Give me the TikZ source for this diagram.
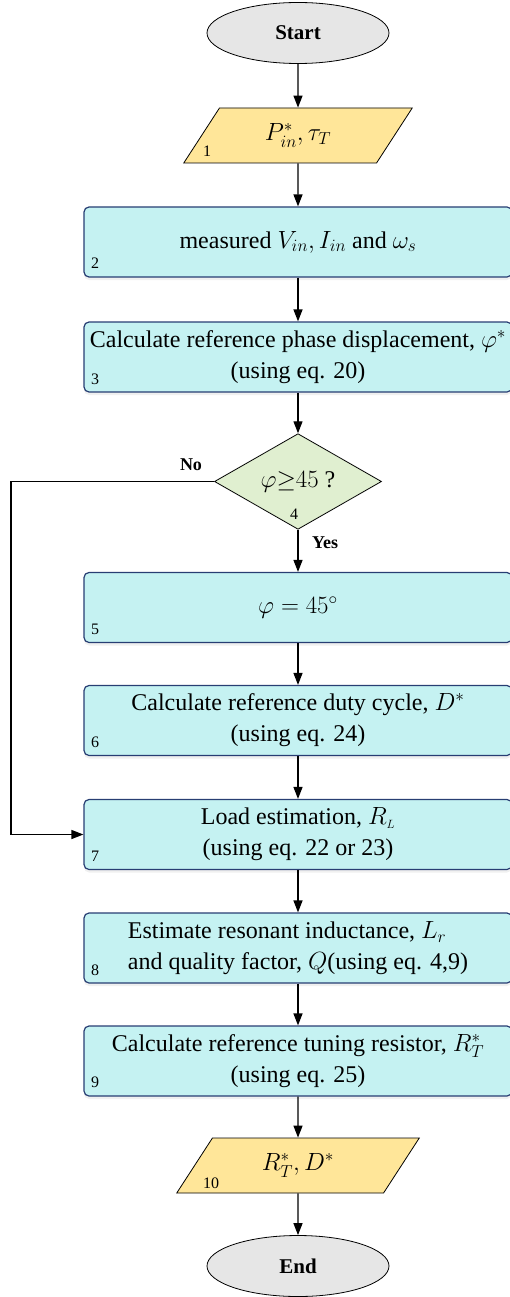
\documentclass[tikz,border=0pt]{standalone}
\usepackage{fontspec}
\setmainfont{Liberation Serif}
\usetikzlibrary{shapes.geometric,arrows.meta,shadows}

\definecolor{boxfill}{RGB}{197,242,242}
\definecolor{boxline}{RGB}{40,62,115}
\definecolor{iofill}{RGB}{255,230,153}
\definecolor{askfill}{RGB}{224,239,208}
\definecolor{termfill}{RGB}{230,230,230}

\tikzset{
    block/.style={draw=boxline, line width=1.2pt, fill=boxfill, rounded corners=5pt,
        minimum width=428pt, minimum height=70pt, inner sep=0pt, align=center,
        drop shadow={opacity=0.12, shadow xshift=0pt, shadow yshift=-3pt},
        font=\fontsize{24}{31}\selectfont},
    io/.style={trapezium, trapezium left angle=57, trapezium right angle=123,
        draw, line width=0.8pt, fill=iofill, minimum width=223pt, minimum height=55pt,
        inner sep=0pt, font=\fontsize{24}{28}\selectfont},
    ask/.style={diamond, draw, line width=0.8pt, fill=askfill, minimum width=167pt,
        minimum height=93pt, inner sep=0pt, font=\fontsize{24}{28}\selectfont},
    term/.style={ellipse, draw, line width=0.8pt, fill=termfill, minimum width=182pt,
        minimum height=61pt, inner sep=0pt, font=\fontsize{21}{24}\selectfont\bfseries},
    num/.style={inner sep=0pt, font=\fontsize{16}{18}\selectfont},
    tag/.style={inner sep=0pt, font=\fontsize{18}{20}\selectfont\bfseries},
    flow/.style={-{Triangle[length=12pt,width=9pt]}, line width=1.3pt}
}

\begin{document}
\begin{tikzpicture}[x=1pt, y=-1pt]
    \useasboundingbox ( 0, 0 ) rectangle ( 509, 1297 );

    % start / end
    \node [term] (start) at ( 298, 33 ) {Start};
    \node [term] (stop) at ( 298, 1266 ) {End};

    % input / output
    \node [io] (in1) at ( 298, 135.5 ) {$P_{in}^{*}, \tau_{T}$};
    \node [io] (out10) at ( 298, 1165.5 ) {$R_{T}^{*}, D^{*}$};

    % blocks
    \node [block] (b2) at ( 298, 242 ) {measured $V_{in}, I_{in}$ and $\omega_{s}$};
    \node [block] (b3) at ( 298, 357 ) {Calculate reference phase displacement, $\varphi^{*}$\\(using eq. 20)};
    \node [ask] (ask) at ( 298, 481.5 ) {$\varphi{\geq}45$ ?};
    \node [block] (b5) at ( 298, 607.5 ) {$\varphi = 45^{\circ}$};
    \node [block] (b6) at ( 298, 720.5 ) {Calculate reference duty cycle, $D^{*}$\\(using eq. 24)};
    \node [block] (b7) at ( 298, 834.5 ) {Load estimation, $R_{\scriptscriptstyle L}$\\(using eq. 22 or 23)};
    \node [block, align=left] (b8) at ( 298, 948 ) {Estimate resonant inductance, $L_{r}$\\and quality factor, $Q$(using eq. 4,9)};
    \node [block] (b9) at ( 298, 1061 ) {Calculate reference tuning resistor, $R_{T}^{*}$\\(using eq. 25)};

    % numbers
    \node [num, anchor=base west] (n1) at ( 203, 157 ) {1};
    \node [num, anchor=base west] (n2) at ( 91, 269 ) {2};
    \node [num, anchor=base west] (n3) at ( 91, 384 ) {3};
    \node [num, anchor=base west] (n4) at ( 290, 519 ) {4};
    \node [num, anchor=base west] (n5) at ( 91, 634 ) {5};
    \node [num, anchor=base west] (n6) at ( 91, 747 ) {6};
    \node [num, anchor=base west] (n7) at ( 91, 861 ) {7};
    \node [num, anchor=base west] (n8) at ( 91, 975 ) {8};
    \node [num, anchor=base west] (n9) at ( 91, 1087 ) {9};
    \node [num, anchor=base west] (n10) at ( 203, 1188 ) {10};

    % yes / no
    \node [tag] (no) at ( 191, 465 ) {No};
    \node [tag] (yes) at ( 325, 543 ) {Yes};
    \coordinate (bend) at ( 11, 481.5 );

    % arrows
    \draw [flow] (start) -- (in1);
    \draw [flow] (in1) -- (b2);
    \draw [flow] (b2) -- (b3);
    \draw [flow] (b3) -- (ask);
    \draw [flow] (ask) -- (b5);
    \draw [flow] (b5) -- (b6);
    \draw [flow] (b6) -- (b7);
    \draw [flow] (b7) -- (b8);
    \draw [flow] (b8) -- (b9);
    \draw [flow] (b9) -- (out10);
    \draw [flow] (out10) -- (stop);
    \draw [flow] (ask.west) -- (bend) |- (b7.west);
\end{tikzpicture}
\end{document}
